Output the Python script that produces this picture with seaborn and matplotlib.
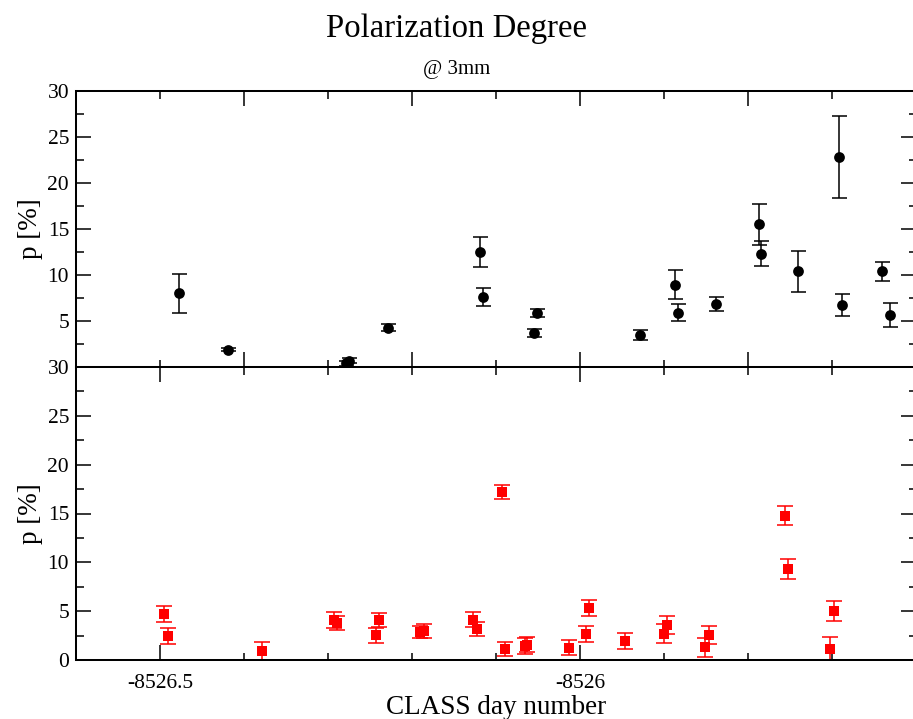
import matplotlib
matplotlib.use("Agg")
import matplotlib.pyplot as plt
from matplotlib.ticker import MultipleLocator, FuncFormatter
import pandas as pd
import seaborn as sns

# Upper panel: polarization degree (black circles)
top_day = [-8526.477, -8526.419, -8526.279, -8526.275, -8526.229, -8526.119,
           -8526.115, -8526.055, -8526.051, -8525.929, -8525.887, -8525.883,
           -8525.838, -8525.787, -8525.784, -8525.740, -8525.692, -8525.688,
           -8525.640, -8525.631]
top_p = [8.0, 1.9, 0.4, 0.7, 4.26, 12.5, 7.6, 3.7, 5.9, 3.47, 8.95, 5.92,
         6.86, 15.5, 12.3, 10.4, 22.8, 6.75, 10.4, 5.67]
top_err = [2.15, 0.2, 0.25, 0.25, 0.4, 1.6, 1.0, 0.45, 0.43, 0.57, 1.55, 0.88,
           0.74, 2.2, 1.35, 2.24, 4.46, 1.2, 1.0, 1.28]

# Lower panel: polarization degree (red squares)
bot_day = [-8526.495, -8526.491, -8526.379, -8526.2925, -8526.289, -8526.239,
           -8526.243, -8526.190, -8526.186, -8526.127, -8526.123, -8526.093,
           -8526.089, -8526.066, -8526.063, -8526.013, -8525.993, -8525.989,
           -8525.946, -8525.900, -8525.896, -8525.851, -8525.846, -8525.756,
           -8525.752, -8525.702, -8525.698]
bot_p = [4.71, 2.46, 0.92, 4.1, 3.79, 4.1, 2.53, 2.87, 2.97, 4.13, 3.14, 17.2,
         1.13, 1.4, 1.57, 1.26, 2.7, 5.32, 1.95, 2.7, 3.58, 1.3, 2.56, 14.78,
         9.32, 1.13, 5.05]
bot_err = [0.85, 0.82, 0.92, 0.78, 0.7, 0.75, 0.77, 0.65, 0.67, 0.75, 0.73,
           0.73, 0.75, 0.82, 0.75, 0.77, 0.82, 0.8, 0.83, 1.0, 0.9, 1.0, 0.88,
           1.0, 1.0, 1.26, 1.03]

title = "Polarization Degree"
subtitle = "@ 3mm"
xlabel = "CLASS day number"
ylabel = "p [%]"

sns.set_theme(style="ticks")
plt.rcParams["font.family"] = ["Liberation Serif", "DejaVu Serif"]
plt.rcParams.update({
    "axes.linewidth": 1.45,
    "text.color": "black",
    "axes.labelcolor": "black",
    "xtick.color": "black",
    "ytick.color": "black",
    "xtick.labelcolor": "black",
    "ytick.labelcolor": "black",
})

fig = plt.figure(figsize=(9.13, 7.19), dpi=100)
W, H = 913, 719
left, right = 76, 916
ax_top = fig.add_axes([left / W, (H - 367) / H, (right - left) / W, (367 - 91) / H])
ax_bot = fig.add_axes([left / W, (H - 660) / H, (right - left) / W, (660 - 367) / H])

top_df = pd.DataFrame({"day": top_day, "p": top_p, "err": top_err})
bot_df = pd.DataFrame({"day": bot_day, "p": bot_p, "err": bot_err})

ax_top.errorbar(top_df["day"], top_df["p"], yerr=top_df["err"], fmt="none",
                ecolor="black", elinewidth=1.1, capsize=5.4, capthick=1.1, zorder=2)
sns.scatterplot(data=top_df, x="day", y="p", ax=ax_top, color="black",
                marker="o", s=60, edgecolor="black", linewidth=0, zorder=3)

ax_bot.errorbar(bot_df["day"], bot_df["p"], yerr=bot_df["err"], fmt="none",
                ecolor="#ff0000", elinewidth=1.1, capsize=5.6, capthick=1.1, zorder=2)
sns.scatterplot(data=bot_df, x="day", y="p", ax=ax_bot, color="#ff0000",
                marker="s", s=50, edgecolor="#ff0000", linewidth=0, zorder=3)

fmt = FuncFormatter(lambda v, pos: "%g" % round(v, 3))
for ax in (ax_top, ax_bot):
    ax.set_xlim(-8526.6, -8525.6)
    ax.set_ylim(0, 30)
    ax.yaxis.set_major_locator(MultipleLocator(5))
    ax.yaxis.set_minor_locator(MultipleLocator(2.5))
    ax.xaxis.set_minor_locator(MultipleLocator(0.1))
    ax.tick_params(which="both", direction="in", top=True, right=True,
                   width=1.1, color="black", labelcolor="black",
                   labelsize=15.5, pad=5)
    ax.tick_params(which="major", length=10.8)
    ax.tick_params(which="minor", length=5.4)
    ax.set_ylabel(ylabel, fontsize=19.5, color="black")
    ax.yaxis.set_label_coords(-0.039, 0.5)
    for s in ax.spines.values():
        s.set_linewidth(1.45)
        s.set_color("black")

ax_top.xaxis.set_major_locator(MultipleLocator(0.2))
ax_top.set_xlabel("")
ax_top.tick_params(axis="x", labelbottom=False)
ax_top.yaxis.set_major_formatter(FuncFormatter(lambda v, pos: "" if v == 0 else "%g" % v))

ax_bot.xaxis.set_major_locator(MultipleLocator(0.5))
ax_bot.xaxis.set_major_formatter(fmt)
ax_bot.tick_params(axis="x", pad=10)
ax_bot.set_xlabel(xlabel, fontsize=19.5, color="black")
ax_bot.xaxis.set_label_coords(0.5, -0.118)

fig.text(0.5, 1 - 37 / H, title, ha="center", va="baseline", fontsize=23.6)
fig.text(0.5, 1 - 74 / H, subtitle, ha="center", va="baseline", fontsize=15)

fig.savefig("out.png", dpi=100)
